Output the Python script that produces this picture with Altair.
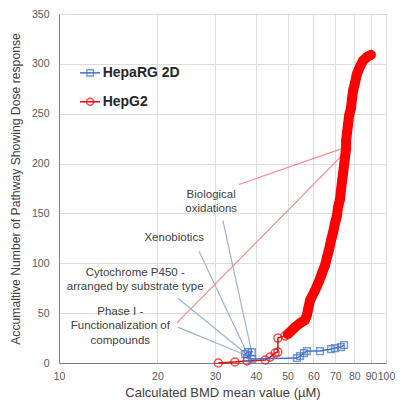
import altair as alt
import pandas as pd

# ---- data ----
hepg2_x = [30.7, 34.5, 37.6, 42.7, 44.2, 45.8, 46.7, 46.7, 49.1, 50.1, 51.6, 52.7, 54.6, 56.5,
           57.3, 57.7, 58.6, 60.7, 62.4, 63.7, 65.1, 66.0, 67.0, 67.9, 68.9, 69.8, 70.8, 71.3,
           72.3, 72.8, 73.3, 73.9, 74.4, 74.9, 75.5, 75.5, 76.0, 76.6, 77.1, 78.2, 78.7, 79.3,
           80.4, 81.5, 83.2, 85.0, 87.5, 89.9]
hepg2_y = [0, 1, 2, 3, 6, 10, 11, 25, 27, 29, 33, 36, 40, 43,
           48, 53, 63, 73, 82, 90, 98, 106, 114, 123, 131, 140, 148, 156,
           164, 173, 181, 190, 198, 206, 215, 223, 231, 240, 248, 256, 265, 273,
           281, 290, 297, 303, 307, 309]

heparg_x = [37.1, 37.8, 38.9, 37.6, 38.9, 53.4, 54.6, 56.1, 57.3, 62.8, 67.9, 69.8, 72.8, 74.4]
heparg_y = [9, 11, 11, 5, 4, 5, 7, 10, 12, 12, 14, 15, 16, 18]

label_text = ["Biological", "oxidations", "Xenobiotics", "Cytochrome P450 -",
              "arranged by substrate type", "Phase I -", "Functionalization of", "compounds"]
label_x = [29.2, 29.2, 22.5, 17.1, 17.1, 15.4, 15.4, 15.4]
label_y = [168, 154, 125, 90, 76, 51, 37, 22]

blue_ptr_x1 = [31.7, 26.8, 23.1, 23.1]
blue_ptr_y1 = [143, 112, 65, 36]
blue_ptr_x2 = [38.9, 37.6, 37.1, 36.5]
blue_ptr_y2 = [10, 10, 10, 9]

red_ptr_x1 = [35.5, 22.9]
red_ptr_y1 = [179, 40]
red_ptr_x2 = [73.3, 73.3]
red_ptr_y2 = [215, 208]

legend_names = ["HepaRG 2D", "HepG2"]
legend_y = [291, 262]
legend_line_x = [11.6, 13.35]
legend_mark_x = 12.45
legend_text_x = 13.6

x_ticks = [10, 20, 30, 40, 50, 60, 70, 80, 90, 100]
y_ticks = [0, 50, 100, 150, 200, 250, 300, 350]

BLUE = "#4472C4"
RED = "#FF0000"
FONT = "Liberation Sans"

red_df = pd.DataFrame({"x": hepg2_x, "y": hepg2_y, "i": range(len(hepg2_x))})
blue_df = pd.DataFrame({"x": heparg_x, "y": heparg_y, "i": range(len(heparg_x))})
lab_df = pd.DataFrame({"x": label_x, "y": label_y, "t": label_text})
bp_df = pd.DataFrame({"x": blue_ptr_x1, "y": blue_ptr_y1, "x2": blue_ptr_x2, "y2": blue_ptr_y2})
rp_df = pd.DataFrame({"x": red_ptr_x1, "y": red_ptr_y1, "x2": red_ptr_x2, "y2": red_ptr_y2})

xs = alt.Scale(type="log", domain=[10, 100], nice=False)
ys = alt.Scale(domain=[0, 350], nice=False)

X = alt.X("x:Q", scale=xs, axis=alt.Axis(
    title="Calculated BMD mean value (µM)", values=x_ticks, format="d",
    grid=True, gridColor="#DDDDDD", domainColor="#7F7F7F", ticks=False,
    labelColor="#595959", labelFont=FONT, labelFontSize=10.5, labelPadding=8,
    labelFlush=False, labelOverlap=False,
    titleFont=FONT, titleFontSize=13, titleFontWeight="normal", titleColor="#404040",
    titlePadding=5))
Y = alt.Y("y:Q", scale=ys, axis=alt.Axis(
    title="Accumaltive Number of Pathway Showing Dose response", values=y_ticks,
    grid=True, gridColor="#DDDDDD", domainColor="#7F7F7F", ticks=False,
    labelColor="#595959", labelFont=FONT, labelFontSize=10.5, labelPadding=10,
    titleFont=FONT, titleFontSize=12.2, titleFontWeight="normal", titleColor="#404040",
    titlePadding=9))

blue_ptr = alt.Chart(bp_df).mark_rule(color="#9DB3D1", strokeWidth=1.2).encode(
    x=X, y=Y, x2="x2:Q", y2="y2:Q")
red_ptr = alt.Chart(rp_df).mark_rule(color="#F28B8B", strokeWidth=1.2).encode(
    x=alt.X("x:Q", scale=xs), y=alt.Y("y:Q", scale=ys), x2="x2:Q", y2="y2:Q")

red_band = alt.Chart(red_df).transform_filter("datum.y >= 29").mark_line(
    color=RED, strokeWidth=10, strokeCap="round", strokeJoin="round").encode(
    x=alt.X("x:Q", scale=xs), y=alt.Y("y:Q", scale=ys), order="i:Q")
red_line = alt.Chart(red_df).mark_line(color=RED, strokeWidth=1.5).encode(
    x=alt.X("x:Q", scale=xs), y=alt.Y("y:Q", scale=ys), order="i:Q")
red_pts = alt.Chart(red_df).mark_point(shape="circle", color=RED, filled=False,
                                       size=64, strokeWidth=1.5).encode(
    x=alt.X("x:Q", scale=xs), y=alt.Y("y:Q", scale=ys))

blue_line = alt.Chart(blue_df).mark_line(color=BLUE, strokeWidth=1.5).encode(
    x=alt.X("x:Q", scale=xs), y=alt.Y("y:Q", scale=ys), order="i:Q")
blue_pts = alt.Chart(blue_df).mark_point(shape="square", color=BLUE, filled=False,
                                         size=45, strokeWidth=1.5).encode(
    x=alt.X("x:Q", scale=xs), y=alt.Y("y:Q", scale=ys))

labels = alt.Chart(lab_df).mark_text(font=FONT, fontSize=11.5, color="#404040",
                                     align="center", baseline="middle").encode(
    x=alt.X("x:Q", scale=xs), y=alt.Y("y:Q", scale=ys), text="t:N")

# legend
leg_line_df = pd.DataFrame({
    "x": [legend_line_x[0], legend_line_x[0]], "x2": [legend_line_x[1], legend_line_x[1]],
    "y": legend_y, "name": legend_names})
leg_lines = alt.Chart(leg_line_df).mark_rule(strokeWidth=1.5).encode(
    x=alt.X("x:Q", scale=xs), x2="x2:Q", y=alt.Y("y:Q", scale=ys),
    color=alt.Color("name:N", scale=alt.Scale(domain=legend_names, range=[BLUE, RED]), legend=None))
leg_sq = alt.Chart(pd.DataFrame({"x": [legend_mark_x], "y": [legend_y[0]]})).mark_point(
    shape="square", color=BLUE, filled=False, size=40, strokeWidth=1.5).encode(
    x=alt.X("x:Q", scale=xs), y=alt.Y("y:Q", scale=ys))
leg_ci = alt.Chart(pd.DataFrame({"x": [legend_mark_x], "y": [legend_y[1]]})).mark_point(
    shape="circle", color=RED, filled=False, size=50, strokeWidth=1.5).encode(
    x=alt.X("x:Q", scale=xs), y=alt.Y("y:Q", scale=ys))
leg_txt = alt.Chart(pd.DataFrame({"x": [legend_text_x] * 2, "y": legend_y, "t": legend_names})).mark_text(
    font=FONT, fontSize=14, fontWeight="bold", color="#262626", align="left", baseline="middle").encode(
    x=alt.X("x:Q", scale=xs), y=alt.Y("y:Q", scale=ys), text="t:N")

chart = alt.layer(
    blue_ptr, red_ptr, red_band, red_line, red_pts, blue_line, blue_pts, labels,
    leg_lines, leg_sq, leg_ci, leg_txt
).properties(
    width=327, height=349,
    autosize=alt.AutoSizeParams(type="none"),
    padding={"left": 51, "top": 6, "right": 11, "bottom": 40},
).configure_view(stroke="#A6A6A6", strokeWidth=1).configure(background="white")

chart.save("out.html", embed_options={"renderer": "svg", "actions": False})
